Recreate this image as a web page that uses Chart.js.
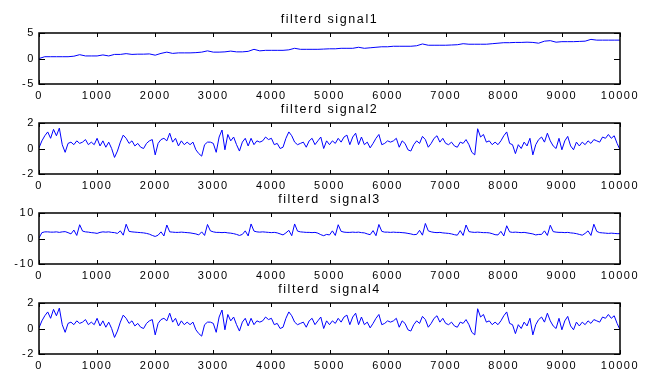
<!DOCTYPE html>
<html>
<head>
<meta charset="utf-8">
<script src="https://cdn.jsdelivr.net/npm/chart.js@4.4.1/dist/chart.umd.min.js"></script>
<style>
  html, body { margin: 0; padding: 0; background: #fff; overflow: hidden; }
  body { width: 646px; height: 371px; position: relative; }
  canvas { position: absolute; left: 0; }
</style>
</head>
<body>
<canvas id="c1" width="646" height="102" style="top:0px"></canvas>
<canvas id="c2" width="646" height="102" style="top:90px"></canvas>
<canvas id="c3" width="646" height="102" style="top:180px"></canvas>
<canvas id="c4" width="646" height="102" style="top:270px"></canvas>
<script>
// titles (as in the original figure, spelling kept)
const titles = ['filterd signal1', 'filterd signal2', 'filterd  signal3', 'filterd  signal4'];
const xTicks = [0, 1000, 2000, 3000, 4000, 5000, 6000, 7000, 8000, 9000, 10000];
const yTicks1 = [-5, 0, 5];
const yTicks2 = [-2, 0, 2];
const yTicks3 = [-10, 0, 10];
const yTicks4 = [-2, 0, 2];

// signal1: one value every 100 samples
const step1 = 100;
const signal1 = [
  0.0, 0.35, 0.35, 0.35, 0.35, 0.35, 0.45, 0.75, 0.5, 0.5,
  0.5, 0.7, 0.5, 0.8, 0.8, 0.95, 0.8, 0.85, 0.85, 0.9,
  0.65, 1.0, 1.25, 1.0, 1.1, 1.1, 1.1, 1.15, 1.25, 1.5,
  1.25, 1.25, 1.3, 1.45, 1.3, 1.3, 1.4, 1.8, 1.5, 1.6,
  1.6, 1.6, 1.6, 1.7, 2.0, 1.8, 1.8, 1.8, 1.8, 1.85,
  1.9, 1.9, 2.0, 2.0, 2.0, 2.2, 2.0, 2.1, 2.2, 2.3,
  2.3, 2.4, 2.4, 2.4, 2.4, 2.5, 2.85, 2.6, 2.6, 2.6,
  2.6, 2.65, 2.7, 2.9, 2.8, 2.8, 2.8, 2.8, 2.9, 3.0,
  3.1, 3.1, 3.15, 3.15, 3.2, 3.15, 3.0, 3.4, 3.5, 3.2,
  3.3, 3.3, 3.3, 3.35, 3.4, 3.75, 3.6, 3.6, 3.6, 3.6,
  3.6
];

// signal2 .. signal4: one value every 50 samples
const step2 = 50;
const signal2 = [
  0.05, 0.6, 1.0, 1.3, 0.8, 1.5, 1.0, 1.6, 0.3, -0.3,
  0.4, 0.5, 0.3, 0.6, 0.4, 0.5, 0.7, 0.3, 0.5, 0.3,
  0.8, 0.2, 0.6, 0.1, 0.5, 0.0, -0.7, -0.2, 0.5, 1.05,
  0.8, 0.4, 0.6, 0.2, 0.4, 0.1, 0.0, 0.4, 0.6, 0.7,
  -0.5, 0.4, 0.7, 0.8, 0.6, 1.2, 0.5, 0.8, 0.2, 0.6,
  0.3, 0.5, 0.3, 0.5, -0.1, -0.4, -0.6, 0.3, 0.5, 0.5,
  0.4, -0.3, 0.9, 1.45, -0.1, 1.1, 0.6, 0.9, 0.3, -0.2,
  0.5, 0.8, 0.2, 0.8, 0.3, 0.6, 0.5, 0.6, 0.9, 0.7,
  0.8, 0.3, 0.4, 0.0, 0.1, 0.8, 1.3, 1.0, 0.5, 0.3,
  0.4, 0.5, 0.1, 0.6, 0.8, 0.3, 0.6, 0.9, 0.0, 0.6,
  0.3, 0.6, 0.4, 0.8, 0.5, 0.9, 1.05, 0.3, 0.9, 1.2,
  0.3, 0.9, 0.3, 0.5, 0.05, 0.4, 0.8, 1.1, 0.3, 0.4,
  0.6, 0.5, 0.6, 0.8, 0.1, 0.6, 0.4, -0.1, -0.2, 0.3,
  0.6, 0.4, 0.95, 0.7, 0.1, 0.4, 0.8, 1.0, 0.5, 0.8,
  0.4, 0.3, 0.5, 0.2, 0.1, 0.5, 0.4, 0.7, 0.3, -0.3,
  -0.5, 1.55, 0.9, 1.1, 0.5, 0.6, 0.3, 0.5, 0.3, 0.6,
  1.0, 1.3, 0.4, 0.3, -0.4, 0.3, 0.0, 0.5, 0.2, 0.8,
  -0.5, 0.3, 0.7, 0.9, 0.5, 1.2, 0.6, 0.2, 0.0, 0.8,
  -0.1, 0.6, 0.95, 0.2, -0.1, 0.5, 0.2, 0.5, 0.3, 0.6,
  0.4, 0.7, 0.6, 0.5, 0.9, 0.8, 1.1, 0.8, 1.0, 0.4,
  -0.1
];

const signal3 = [
  0.2, 2.3, 2.6, 2.6, 2.5, 2.5, 2.6, 2.4, 2.6, 2.7,
  2.3, 1.8, 3.3, 1.2, 5.4, 2.9, 2.6, 2.5, 2.3, 2.2,
  2.0, 2.4, 2.6, 2.5, 2.6, 2.4, 2.3, 2.0, 3.0, 1.3,
  5.6, 2.8, 2.6, 2.5, 2.4, 2.3, 2.2, 2.0, 1.7, 1.2,
  0.8, 1.3, 2.6, 1.0, 5.3, 2.6, 2.5, 2.4, 2.4, 2.5,
  2.4, 2.3, 2.2, 2.0, 1.8, 1.4, 2.6, 1.2, 5.5, 3.0,
  2.6, 2.4, 2.4, 2.3, 2.4, 2.2, 2.1, 1.9, 1.6, 1.2,
  1.6, 3.0, 1.0, 5.7, 2.9, 2.6, 2.5, 2.6, 2.5, 2.4,
  2.3, 2.4, 2.2, 1.8, 1.4, 2.2, 3.2, 1.1, 5.7, 2.9,
  2.6, 2.5, 2.4, 2.4, 2.3, 2.4, 2.1, 1.5, 1.1, 1.6,
  1.4, 3.0, 1.2, 5.4, 2.8, 2.5, 2.4, 2.4, 2.5, 2.4,
  2.5, 2.3, 2.2, 1.8, 1.5, 3.1, 1.1, 5.5, 2.8, 2.5,
  2.5, 2.4, 2.5, 2.4, 2.4, 2.3, 2.2, 2.0, 1.8, 1.5,
  1.6, 3.2, 1.3, 5.9, 3.0, 2.6, 2.4, 2.3, 2.4, 2.2,
  2.1, 2.0, 1.8, 1.5, 1.3, 3.1, 1.2, 5.3, 2.7, 2.5,
  2.4, 2.5, 2.4, 2.3, 2.3, 2.2, 1.9, 1.5, 1.4, 2.8,
  1.0, 5.0, 2.6, 2.4, 2.5, 2.4, 2.3, 2.4, 2.2, 2.0,
  1.8, 1.4, 1.6, 1.6, 3.0, 1.2, 5.2, 2.7, 2.5, 2.4,
  2.4, 2.3, 2.4, 2.2, 2.1, 1.9, 1.6, 1.3, 2.0, 3.0,
  1.2, 5.6, 2.8, 2.3, 2.2, 2.1, 2.0, 2.1, 2.0, 1.9,
  1.9
];

const signal4 = [
  0.05, 0.6, 1.0, 1.3, 0.8, 1.5, 1.0, 1.6, 0.3, -0.3,
  0.4, 0.5, 0.3, 0.6, 0.4, 0.5, 0.7, 0.3, 0.5, 0.3,
  0.8, 0.2, 0.6, 0.1, 0.5, 0.0, -0.7, -0.2, 0.5, 1.05,
  0.8, 0.4, 0.6, 0.2, 0.4, 0.1, 0.0, 0.4, 0.6, 0.7,
  -0.5, 0.4, 0.7, 0.8, 0.6, 1.2, 0.5, 0.8, 0.2, 0.6,
  0.3, 0.5, 0.3, 0.5, -0.1, -0.4, -0.6, 0.3, 0.5, 0.5,
  0.4, -0.3, 0.9, 1.45, -0.1, 1.1, 0.6, 0.9, 0.3, -0.2,
  0.5, 0.8, 0.2, 0.8, 0.3, 0.6, 0.5, 0.6, 0.9, 0.7,
  0.8, 0.3, 0.4, 0.0, 0.1, 0.8, 1.3, 1.0, 0.5, 0.3,
  0.4, 0.5, 0.1, 0.6, 0.8, 0.3, 0.6, 0.9, 0.0, 0.6,
  0.3, 0.6, 0.4, 0.8, 0.5, 0.9, 1.05, 0.3, 0.9, 1.2,
  0.3, 0.9, 0.3, 0.5, 0.05, 0.4, 0.8, 1.1, 0.3, 0.4,
  0.6, 0.5, 0.6, 0.8, 0.1, 0.6, 0.4, -0.1, -0.2, 0.3,
  0.6, 0.4, 0.95, 0.7, 0.1, 0.4, 0.8, 1.0, 0.5, 0.8,
  0.4, 0.3, 0.5, 0.2, 0.1, 0.5, 0.4, 0.7, 0.3, -0.3,
  -0.5, 1.55, 0.9, 1.1, 0.5, 0.6, 0.3, 0.5, 0.3, 0.6,
  1.0, 1.3, 0.4, 0.3, -0.4, 0.3, 0.0, 0.5, 0.2, 0.8,
  -0.5, 0.3, 0.7, 0.9, 0.5, 1.2, 0.6, 0.2, 0.0, 0.8,
  -0.1, 0.6, 0.95, 0.2, -0.1, 0.5, 0.2, 0.5, 0.3, 0.6,
  0.4, 0.7, 0.6, 0.5, 0.9, 0.8, 1.1, 0.8, 1.0, 0.4,
  -0.1
];

Chart.defaults.font.family = '"Liberation Sans", Arial, sans-serif';
Chart.defaults.font.size = 11;
Chart.defaults.color = '#000';

// matlab look: wide-ish text, boxed axes with inward ticks
const matlabBox = {
  id: 'matlabBox',
  beforeLayout(chart) { chart.ctx.letterSpacing = '1.6px'; },
  beforeDraw(chart) { chart.ctx.letterSpacing = '1.6px'; },
  afterDatasetsDraw(chart) {
    const { ctx, chartArea: a, scales: { x, y } } = chart;
    ctx.save();
    ctx.strokeStyle = '#000';
    ctx.lineWidth = 1;
    ctx.beginPath();
    x.ticks.forEach(t => {
      const px = Math.round(x.getPixelForValue(t.value)) + 0.5;
      ctx.moveTo(px, a.bottom); ctx.lineTo(px, a.bottom - 4);
      ctx.moveTo(px, a.top); ctx.lineTo(px, a.top + 4);
    });
    y.ticks.forEach(t => {
      const py = Math.round(y.getPixelForValue(t.value)) + 0.5;
      ctx.moveTo(a.left, py); ctx.lineTo(a.left + 6, py);
      ctx.moveTo(a.right, py); ctx.lineTo(a.right - 6, py);
    });
    ctx.stroke();
    ctx.lineWidth = 1.5;
    ctx.strokeRect(a.left, a.top, a.right - a.left, a.bottom - a.top);
    ctx.restore();
  }
};

function makeChart(id, title, values, step, yTicks) {
  const ctx = document.getElementById(id);
  return new Chart(ctx, {
    type: 'line',
    data: {
      datasets: [{
        data: values.map((v, i) => ({ x: i * step, y: v })),
        borderColor: '#0000ff',
        borderWidth: 1,
        pointRadius: 0,
        tension: 0,
        fill: false
      }]
    },
    options: {
      responsive: false,
      animation: false,
      devicePixelRatio: 1,
      layout: { padding: { left: 0, right: 26, top: 0, bottom: 0 } },
      plugins: {
        legend: { display: false },
        tooltip: { enabled: false },
        title: {
          display: true,
          text: title,
          fullSize: false,
          color: '#000',
          font: { size: 12.5, weight: 'normal' },
          padding: { top: 12, bottom: 6 }
        }
      },
      scales: {
        x: {
          type: 'linear',
          min: xTicks[0],
          max: xTicks[xTicks.length - 1],
          afterBuildTicks: s => { s.ticks = xTicks.map(v => ({ value: v })); },
          grid: { display: false, drawTicks: false },
          border: { display: false },
          ticks: { autoSkip: false, maxRotation: 0, padding: 5, color: '#000', callback: v => String(v) },
          afterFit: s => { s.height = 18; s.paddingLeft = 0; s.paddingRight = 0; }
        },
        y: {
          min: yTicks[0],
          max: yTicks[yTicks.length - 1],
          afterBuildTicks: s => { s.ticks = yTicks.map(v => ({ value: v })); },
          grid: { display: false, drawTicks: false },
          border: { display: false },
          ticks: { padding: 4, color: '#000', callback: v => String(v) },
          afterFit: s => { s.width = 39; s.paddingTop = 0; s.paddingBottom = 0; }
        }
      }
    },
    plugins: [matlabBox]
  });
}

makeChart('c1', titles[0], signal1, step1, yTicks1);
makeChart('c2', titles[1], signal2, step2, yTicks2);
makeChart('c3', titles[2], signal3, step2, yTicks3);
makeChart('c4', titles[3], signal4, step2, yTicks4);
</script>
</body>
</html>
